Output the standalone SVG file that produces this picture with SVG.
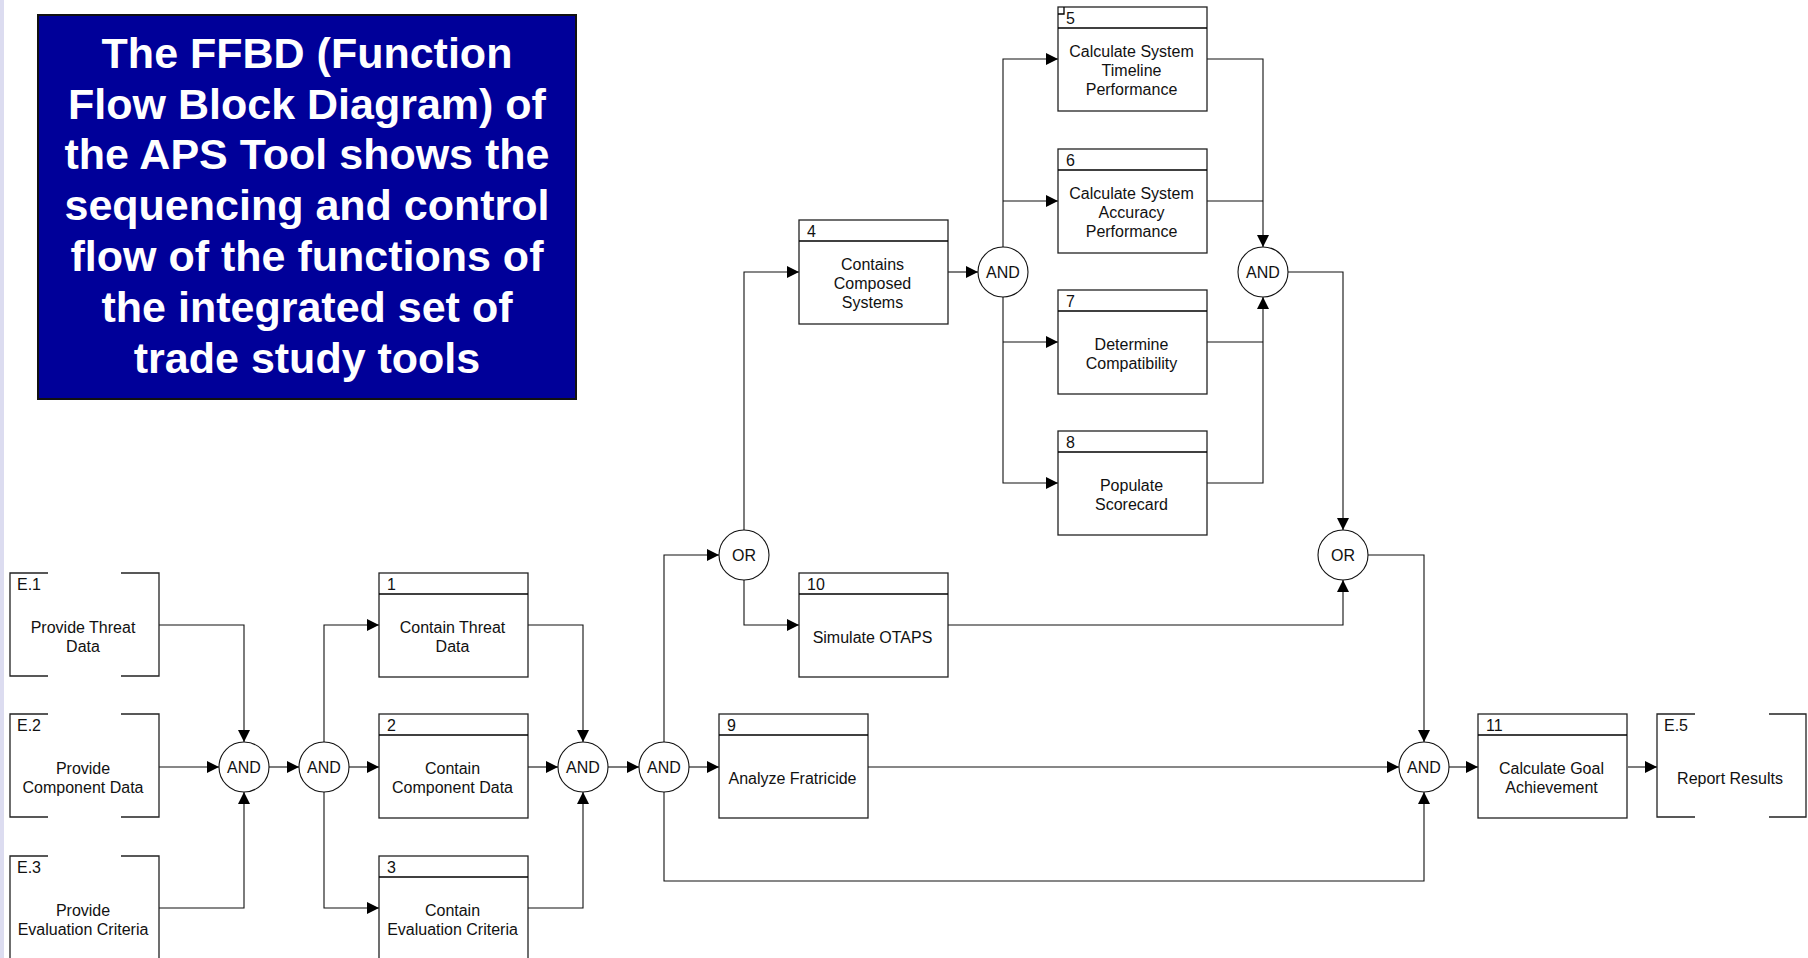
<svg xmlns="http://www.w3.org/2000/svg" width="1808" height="958" viewBox="0 0 1808 958">
<defs>
<marker id="ah" markerUnits="userSpaceOnUse" markerWidth="12" markerHeight="12" refX="12" refY="6" orient="auto">
<path d="M0,0 L12,6 L0,12 z" fill="#000"/>
</marker>
<style>
.box{fill:#fff;stroke:#222;stroke-width:1.3}
.hdr{stroke:#000;stroke-width:1.3;fill:none}
.ext{fill:none;stroke:#222;stroke-width:1.3}
.t{font-family:"Liberation Sans",Arial,sans-serif;font-size:16px;fill:#111;text-anchor:middle}
.n{font-family:"Liberation Sans",Arial,sans-serif;font-size:16px;fill:#111}
.gate{fill:#fff;stroke:#111;stroke-width:1.1}
.g{font-family:"Liberation Sans",Arial,sans-serif;font-size:16px;fill:#111;text-anchor:middle}
.c{fill:none;stroke:#111;stroke-width:1.1}
.a{marker-end:url(#ah)}
.title{font-family:"Liberation Sans",Arial,sans-serif;font-size:43px;font-weight:bold;fill:#fff;text-anchor:middle}
</style>
</defs>
<rect x="0" y="0" width="1808" height="958" fill="#fff"/>
<rect x="0" y="0" width="4" height="958" fill="#dcdcf0"/>

<g id="title">
<rect x="38" y="15" width="538" height="384" fill="#000099" stroke="#111" stroke-width="2"/>
<text class="title" x="307" y="68">The FFBD (Function</text>
<text class="title" x="307" y="119">Flow Block Diagram) of</text>
<text class="title" x="307" y="169">the APS Tool shows the</text>
<text class="title" x="307" y="220">sequencing and control</text>
<text class="title" x="307" y="271">flow of the functions of</text>
<text class="title" x="307" y="322">the integrated set of</text>
<text class="title" x="307" y="373">trade study tools</text>
</g>

<g id="connectors">
<path class="c a" d="M159,625 H244 V742"/>
<path class="c a" d="M159,767 H219"/>
<path class="c a" d="M159,908 H244 V792"/>
<path class="c a" d="M269,767 H299"/>
<path class="c a" d="M324,742 V625 H379"/>
<path class="c a" d="M349,767 H379"/>
<path class="c a" d="M324,792 V908 H379"/>
<path class="c a" d="M528,625 H583 V742"/>
<path class="c a" d="M528,767 H558"/>
<path class="c a" d="M528,908 H583 V792"/>
<path class="c a" d="M608,767 H639"/>
<path class="c a" d="M664,742 V555 H719"/>
<path class="c a" d="M689,767 H719"/>
<path class="c a" d="M664,792 V881 H1424 V792"/>
<path class="c a" d="M744,530 V272 H799"/>
<path class="c a" d="M744,580 V625 H799"/>
<path class="c a" d="M948,272 H978"/>
<path class="c a" d="M1003,247 V59 H1058"/>
<path class="c a" d="M1003,201 H1058"/>
<path class="c a" d="M1003,297 V483 H1058"/>
<path class="c a" d="M1003,342 H1058"/>
<path class="c a" d="M1207,59 H1263 V247"/>
<path class="c" d="M1207,201 H1263"/>
<path class="c a" d="M1207,483 H1263 V297"/>
<path class="c" d="M1207,342 H1263"/>
<path class="c a" d="M1288,272 H1343 V530"/>
<path class="c a" d="M948,625 H1343 V580"/>
<path class="c a" d="M1368,555 H1424 V742"/>
<path class="c a" d="M868,767 H1399"/>
<path class="c a" d="M1449,767 H1478"/>
<path class="c a" d="M1628,767 H1657"/>
</g>

<g id="E1">
<path class="ext" d="M48,573 H10 V676 H48 M121,573 H159 V676 H121"/>
<text class="n" x="17" y="590">E.1</text>
<text class="t" x="83" y="633">Provide Threat</text>
<text class="t" x="83" y="652">Data</text>
</g>
<g id="E2">
<path class="ext" d="M48,714 H10 V817 H48 M121,714 H159 V817 H121"/>
<text class="n" x="17" y="731">E.2</text>
<text class="t" x="83" y="774">Provide</text>
<text class="t" x="83" y="793">Component Data</text>
</g>
<g id="E3">
<path class="ext" d="M48,856 H10 V959 H48 M121,856 H159 V959 H121"/>
<text class="n" x="17" y="873">E.3</text>
<text class="t" x="83" y="916">Provide</text>
<text class="t" x="83" y="935">Evaluation Criteria</text>
</g>

<g id="F1">
<rect class="box" x="379" y="573" width="149" height="104"/>
<path class="hdr" d="M379,594 H528"/>
<text class="n" x="387" y="590">1</text>
<text class="t" x="452.5" y="633">Contain Threat</text>
<text class="t" x="452.5" y="652">Data</text>
</g>
<g id="F2">
<rect class="box" x="379" y="714" width="149" height="104"/>
<path class="hdr" d="M379,735 H528"/>
<text class="n" x="387" y="731">2</text>
<text class="t" x="452.5" y="774">Contain</text>
<text class="t" x="452.5" y="793">Component Data</text>
</g>
<g id="F3">
<rect class="box" x="379" y="856" width="149" height="104"/>
<path class="hdr" d="M379,877 H528"/>
<text class="n" x="387" y="873">3</text>
<text class="t" x="452.5" y="916">Contain</text>
<text class="t" x="452.5" y="935">Evaluation Criteria</text>
</g>
<g id="F4">
<rect class="box" x="799" y="220" width="149" height="104"/>
<path class="hdr" d="M799,241 H948"/>
<text class="n" x="807" y="237">4</text>
<text class="t" x="872.5" y="270">Contains</text>
<text class="t" x="872.5" y="289">Composed</text>
<text class="t" x="872.5" y="308">Systems</text>
</g>
<g id="F5">
<rect class="box" x="1058" y="7" width="149" height="104"/>
<path class="hdr" d="M1058,28 H1207"/>
<path class="hdr" d="M1058,14 H1064 V7" stroke-width="1"/>
<text class="n" x="1066" y="24">5</text>
<text class="t" x="1131.5" y="57">Calculate System</text>
<text class="t" x="1131.5" y="76">Timeline</text>
<text class="t" x="1131.5" y="95">Performance</text>
</g>
<g id="F6">
<rect class="box" x="1058" y="149" width="149" height="104"/>
<path class="hdr" d="M1058,170 H1207"/>
<text class="n" x="1066" y="166">6</text>
<text class="t" x="1131.5" y="199">Calculate System</text>
<text class="t" x="1131.5" y="218">Accuracy</text>
<text class="t" x="1131.5" y="237">Performance</text>
</g>
<g id="F7">
<rect class="box" x="1058" y="290" width="149" height="104"/>
<path class="hdr" d="M1058,311 H1207"/>
<text class="n" x="1066" y="307">7</text>
<text class="t" x="1131.5" y="350">Determine</text>
<text class="t" x="1131.5" y="369">Compatibility</text>
</g>
<g id="F8">
<rect class="box" x="1058" y="431" width="149" height="104"/>
<path class="hdr" d="M1058,452 H1207"/>
<text class="n" x="1066" y="448">8</text>
<text class="t" x="1131.5" y="491">Populate</text>
<text class="t" x="1131.5" y="510">Scorecard</text>
</g>
<g id="F9">
<rect class="box" x="719" y="714" width="149" height="104"/>
<path class="hdr" d="M719,735 H868"/>
<text class="n" x="727" y="731">9</text>
<text class="t" x="792.5" y="783.5">Analyze Fratricide</text>
</g>
<g id="F10">
<rect class="box" x="799" y="573" width="149" height="104"/>
<path class="hdr" d="M799,594 H948"/>
<text class="n" x="807" y="590">10</text>
<text class="t" x="872.5" y="642.5">Simulate OTAPS</text>
</g>
<g id="F11">
<rect class="box" x="1478" y="714" width="149" height="104"/>
<path class="hdr" d="M1478,735 H1627"/>
<text class="n" x="1486" y="731">11</text>
<text class="t" x="1551.5" y="774">Calculate Goal</text>
<text class="t" x="1551.5" y="793">Achievement</text>
</g>
<g id="E5">
<path class="ext" d="M1695,714 H1657 V817 H1695 M1769,714 H1806 V817 H1769"/>
<text class="n" x="1664" y="731">E.5</text>
<text class="t" x="1730" y="783.5">Report Results</text>
</g>

<g id="AND1"><circle class="gate" cx="244" cy="767" r="25"/><text class="g" x="244" y="773">AND</text></g>
<g id="AND2"><circle class="gate" cx="324" cy="767" r="25"/><text class="g" x="324" y="773">AND</text></g>
<g id="AND3"><circle class="gate" cx="583" cy="767" r="25"/><text class="g" x="583" y="773">AND</text></g>
<g id="AND4"><circle class="gate" cx="664" cy="767" r="25"/><text class="g" x="664" y="773">AND</text></g>
<g id="OR1"><circle class="gate" cx="744" cy="555" r="25"/><text class="g" x="744" y="561">OR</text></g>
<g id="AND5"><circle class="gate" cx="1003" cy="272" r="25"/><text class="g" x="1003" y="278">AND</text></g>
<g id="AND6"><circle class="gate" cx="1263" cy="272" r="25"/><text class="g" x="1263" y="278">AND</text></g>
<g id="OR2"><circle class="gate" cx="1343" cy="555" r="25"/><text class="g" x="1343" y="561">OR</text></g>
<g id="AND7"><circle class="gate" cx="1424" cy="767" r="25"/><text class="g" x="1424" y="773">AND</text></g>
</svg>
